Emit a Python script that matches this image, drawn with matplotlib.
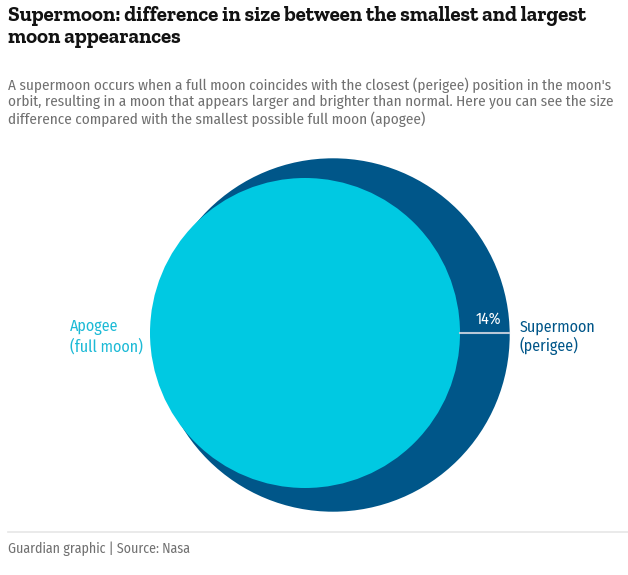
import matplotlib
matplotlib.use("Agg")
import matplotlib.pyplot as plt
from matplotlib.patches import Circle

# Data
categories = ["Apogee\n(full moon)", "Supermoon\n(perigee)"]
relative_size = [100, 114]          # apparent diameter, apogee = 100
difference_label = "14%"

title = "Supermoon: difference in size between the smallest and largest\nmoon appearances"
subtitle = ("A supermoon occurs when a full moon coincides with the closest (perigee) position in the moon's\n"
            "orbit, resulting in a moon that appears larger and brighter than normal. Here you can see the size\n"
            "difference compared with the smallest possible full moon (apogee)")
source = "Guardian graphic | Source: Nasa"

DARK = "#005689"
LIGHT = "#00c9e2"
GREY = "#707070"
SANS = ["Fira Sans Condensed", "Roboto Condensed", "DejaVu Sans"]
SERIF = ["Zilla Slab", "Liberation Serif", "DejaVu Serif"]

W, H = 628, 575
fig = plt.figure(figsize=(W / 100, H / 100), dpi=100)
ax = fig.add_axes([0, 0, 1, 1])
ax.set_xlim(0, W)
ax.set_ylim(H, 0)
ax.set_aspect("equal")
ax.axis("off")

scale = 1.55  # px per unit radius
r_small = relative_size[0] * scale
r_big = relative_size[1] * scale
big_c = (333, 335)
small_c = (305, 333)

ax.add_patch(Circle(big_c, r_big, facecolor=DARK, edgecolor="none", zorder=1))
ax.add_patch(Circle(small_c, r_small, facecolor=LIGHT, edgecolor="none", zorder=2))

ly = 333
ax.plot([small_c[0] + r_small, big_c[0] + r_big - 1], [ly, ly], color="#b8c8d8", lw=1.5, zorder=3)
ax.text(big_c[0] + r_big - 8, ly - 9, difference_label, color="white", fontsize=11.5,
        ha="right", va="baseline", family=SANS, zorder=4)

ax.text(small_c[0] - r_small - 7, ly + 4, categories[0], color="#1cbad6", fontsize=11.5,
        ha="right", va="center", multialignment="left", family=SANS, linespacing=1.2)
ax.text(big_c[0] + r_big + 10, ly + 4, categories[1], color=DARK, fontsize=11.5,
        ha="left", va="center", family=SANS, linespacing=1.2)

ax.text(8, 6, title, fontsize=15, fontweight="bold", color="#121212",
        family=SERIF, ha="left", va="top", linespacing=1.15)
ax.text(8, 77, subtitle, fontsize=10.9, color=GREY, family=SANS,
        ha="left", va="top", linespacing=1.2)

ax.plot([8, W], [532, 532], color="#e6e6e6", lw=1.2)
ax.text(8, 549, source, fontsize=10, color=GREY, family=SANS, ha="left", va="center")

fig.savefig("out.png", dpi=100, facecolor="white")
